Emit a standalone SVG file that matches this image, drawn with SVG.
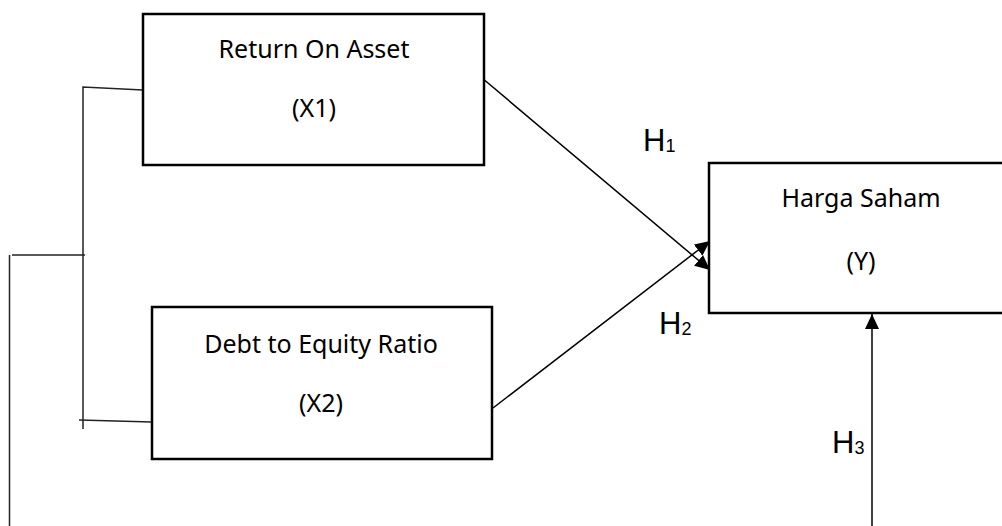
<svg xmlns="http://www.w3.org/2000/svg" width="1002" height="526" viewBox="0 0 1002 526">
<style>
.box{fill:#fff;stroke:#000;stroke-width:2.5}
.lbl{font-family:"Noto Sans","Open Sans",sans-serif;font-size:25px;fill:#000;text-anchor:middle}
.h{font-family:"Liberation Sans",Arial,sans-serif;font-size:31px;fill:#000}
.sub{font-size:18px}
.ln{stroke:#000;stroke-width:1.5;fill:none}
.thin{stroke:#222;stroke-width:1.5;fill:none}
</style>
<defs>
<marker id="ah" markerUnits="userSpaceOnUse" markerWidth="16" markerHeight="14" refX="15" refY="7" orient="auto">
<path d="M0,0 L15,7 L0,14 Z" fill="#000"/>
</marker>
</defs>
<g id="connectors">
<polyline class="thin" points="143,90 83,87 83,429"/>
<line class="thin" x1="79" y1="420" x2="152" y2="422"/>
<line class="thin" x1="12" y1="255" x2="85" y2="255"/>
<line class="thin" x1="9.5" y1="255" x2="9.5" y2="526"/>
<line class="ln" x1="482" y1="78" x2="710" y2="270" marker-end="url(#ah)"/>
<line class="ln" x1="493" y1="408" x2="710" y2="241" marker-end="url(#ah)"/>
<line class="ln" x1="872" y1="526" x2="872" y2="314" marker-end="url(#ah)"/>
</g>
<g id="x1">
<rect class="box" x="143" y="14" width="341" height="151"/>
<text class="lbl" x="314" y="58">Return On Asset</text>
<text class="lbl" x="314" y="117">(X1)</text>
</g>
<g id="x2">
<rect class="box" x="152" y="307" width="340" height="152"/>
<text class="lbl" x="321" y="353">Debt to Equity Ratio</text>
<text class="lbl" x="321" y="412">(X2)</text>
</g>
<g id="y">
<rect class="box" x="709" y="163" width="300" height="150"/>
<text class="lbl" x="861" y="207">Harga Saham</text>
<text class="lbl" x="861" y="270">(Y)</text>
</g>
<g id="labels">
<text class="h" x="643" y="151">H<tspan class="sub" dy="1">1</tspan></text>
<text class="h" x="659" y="334">H<tspan class="sub" dy="1">2</tspan></text>
<text class="h" x="832" y="453">H<tspan class="sub" dy="1">3</tspan></text>
</g>
</svg>
